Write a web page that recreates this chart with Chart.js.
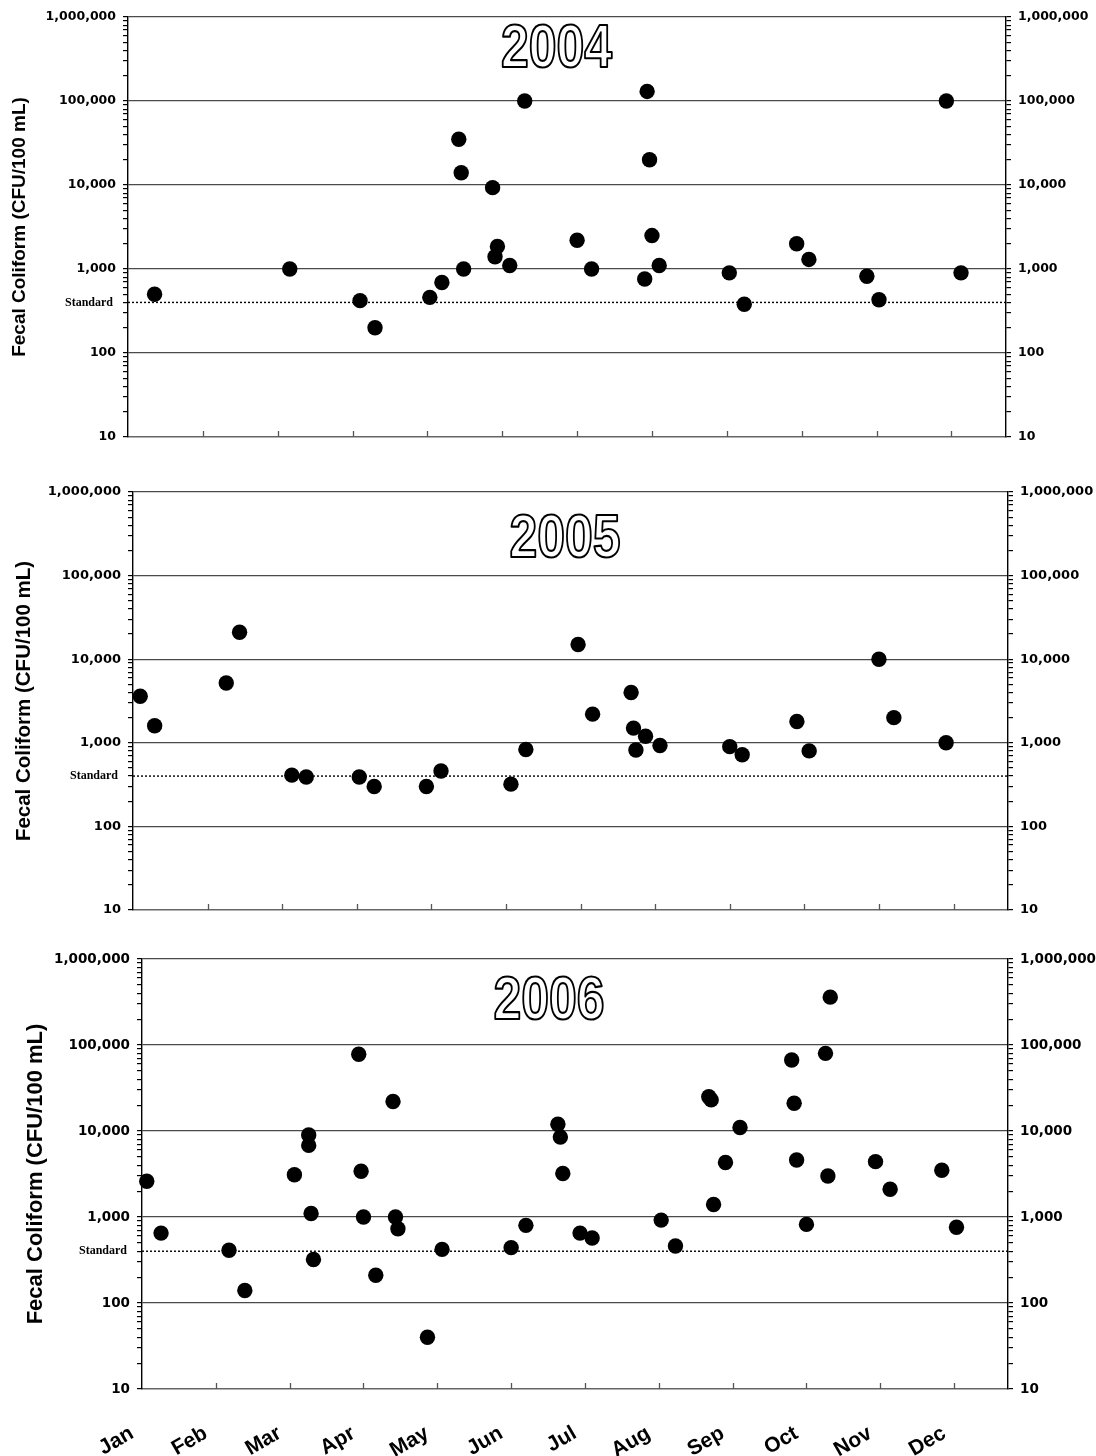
<!DOCTYPE html>
<html>
<head>
<meta charset="utf-8">
<title>Fecal Coliform 2004-2006</title>
<script src="https://cdn.jsdelivr.net/npm/chart.js@4.4.1/dist/chart.umd.min.js"></script>
<style>
  html, body { margin: 0; padding: 0; background: #fff; }
  body { width: 1096px; height: 1456px; position: relative; overflow: hidden; }
  .panel { position: absolute; left: 0; width: 1096px; }
  canvas { display: block; }
</style>
</head>
<body>
<script>
// ---- data -------------------------------------------------------------
const MONTH_LABELS = ['Jan', 'Feb', 'Mar', 'Apr', 'May', 'Jun', 'Jul', 'Aug', 'Sep', 'Oct', 'Nov', 'Dec'];
const Y_MIN = 10;
const Y_MAX = 1000000;
const STANDARD = 400;          // fecal coliform standard, CFU/100 mL
const X_END = 11.73;           // axis runs from Jan 1 to late December (in months)
const Y_AXIS_TITLE = 'Fecal Coliform (CFU/100 mL)';

const dates2004 = ['01-12', '03-06', '04-04', '04-10', '05-02', '05-07', '05-14', '05-15', '05-16',
  '05-28', '05-29', '05-30', '06-04', '06-10', '07-01', '07-07', '07-29', '07-30', '07-31', '08-01',
  '08-04', '09-02', '09-08', '09-29', '10-04', '10-28', '11-02', '11-29', '12-05'];
const fc2004 = [500, 1000, 420, 200, 460, 690, 35000, 14000, 1000,
  9300, 1400, 1850, 1100, 100000, 2200, 1000, 760, 130000, 20000, 2500,
  1100, 900, 380, 2000, 1300, 820, 430, 100000, 900];

const dates2005 = ['01-04', '01-10', '02-08', '02-13', '03-05', '03-11', '04-02', '04-08', '04-29',
  '05-05', '06-03', '06-09', '06-30', '07-06', '07-22', '07-23', '07-24', '07-28', '08-03', '09-01',
  '09-06', '09-28', '10-03', '11-01', '11-07', '11-28'];
const fc2005 = [3600, 1600, 5200, 21000, 410, 390, 390, 300, 300,
  460, 320, 830, 15000, 2200, 4000, 1500, 820, 1200, 930, 900,
  720, 1800, 800, 10000, 2000, 1000];

const dates2006 = ['01-03', '01-09', '02-06', '02-12', '03-03', '03-09', '03-09', '03-10', '03-11',
  '03-30', '03-31', '04-01', '04-06', '04-13', '04-14', '04-15', '04-27', '05-03', '06-01', '06-07',
  '06-20', '06-21', '06-22', '06-29', '07-04', '08-02', '08-08', '08-22', '08-23', '08-24', '08-29',
  '09-04', '09-25', '09-26', '09-27', '10-01', '10-09', '10-10', '10-11', '10-30', '11-05', '11-26',
  '12-02'];
const fc2006 = [2600, 650, 410, 140, 3100, 9000, 6800, 1100, 320,
  78000, 3400, 1000, 210, 22000, 1000, 730, 40, 420, 440, 800,
  12000, 8500, 3200, 650, 570, 920, 460, 25000, 23000, 1400, 4300,
  11000, 67000, 21000, 4600, 820, 80000, 3000, 360000, 4400, 2100, 3500,
  760];

// ---- panel layout -----------------------------------------------------
const PANELS = [
  { year: 2004, dates: dates2004, values: fc2004, top: 0, height: 470, padTop: 17, left: 128, right: 1006,
    xh: 33, months: false, titleDx: -10.5, titleDy: 28, yTitleSize: 19, yTitlePad: 8, tickSize: 12.5 },
  { year: 2005, dates: dates2005, values: fc2005, top: 470, height: 470, padTop: 22, left: 133, right: 1008,
    xh: 30, months: false, titleDx: -5.5, titleDy: 43, yTitleSize: 20.5, yTitlePad: 12, tickSize: 13 },
  { year: 2006, dates: dates2006, values: fc2006, top: 940, height: 516, padTop: 19, left: 142, right: 1008,
    xh: 67, months: true, titleDx: -26, titleDy: 38, yTitleSize: 22, yTitlePad: 23, tickSize: 13.5 }
];

// date 'MM-DD' -> position in months from Jan 1
function monthPosition(year, md) {
  const [m, d] = md.split('-').map(Number);
  const daysInMonth = new Date(year, m, 0).getDate();
  return (m - 1) + (d - 1) / daysInMonth;
}

function isDecade(v) {
  const e = Math.log10(v);
  return Math.abs(e - Math.round(e)) < 1e-9;
}

// 1..9 x 10^n ticks between the axis bounds
function logTicks(axis) {
  const ticks = [];
  const e0 = Math.round(Math.log10(Y_MIN));
  const e1 = Math.round(Math.log10(Y_MAX));
  for (let e = e0; e < e1; e++) {
    for (let k = 1; k < 10; k++) ticks.push({ value: k * Math.pow(10, e) });
  }
  ticks.push({ value: Y_MAX });
  axis.ticks = ticks;
}

function yAxis(p, side) {
  return {
    type: 'logarithmic',
    position: side,
    min: Y_MIN,
    max: Y_MAX,
    afterBuildTicks: logTicks,
    afterFit: (a) => { a.width = side === 'left' ? p.left : 1096 - p.right; },
    border: { display: true, color: '#000', width: 1.4 },
    grid: {
      drawOnChartArea: side === 'left',
      drawTicks: true,
      tickLength: 5,
      tickColor: '#000',
      lineWidth: 1.2,
      color: (ctx) => {
        const v = ctx.tick && ctx.tick.value;
        return (v && isDecade(v) && v > Y_MIN) ? '#4a4a4a' : 'rgba(0,0,0,0)';
      }
    },
    ticks: {
      autoSkip: false,
      padding: 7,
      color: '#000',
      font: { family: '"DejaVu Sans"', weight: 'bold', size: p.tickSize },
      callback: (v) => isDecade(v) ? Number(v).toLocaleString('en-US') : ''
    },
    title: side === 'left' ? {
      display: true,
      text: Y_AXIS_TITLE,
      color: '#000',
      font: { family: '"Liberation Sans", Arial, sans-serif', weight: 'bold', size: p.yTitleSize },
      padding: { top: p.yTitlePad, bottom: 0 }
    } : { display: false }
  };
}

// year heading, "Standard" caption and inward month ticks
const panelDecor = {
  id: 'panelDecor',
  afterDraw(chart, args, opts) {
    const ctx = chart.ctx;
    const area = chart.chartArea;
    const xs = chart.scales.x;
    const ys = chart.scales.y;

    // month ticks pointing up from the time axis
    ctx.save();
    ctx.strokeStyle = '#555';
    ctx.lineWidth = 1.3;
    for (let i = 1; i < MONTH_LABELS.length; i++) {
      const x = Math.round(xs.getPixelForValue(i)) + 0.5;
      ctx.beginPath();
      ctx.moveTo(x, area.bottom);
      ctx.lineTo(x, area.bottom - 6);
      ctx.stroke();
    }
    ctx.restore();

    // "Standard" caption next to the dotted line
    ctx.save();
    ctx.font = 'bold 12px "Liberation Serif", "Times New Roman", serif';
    ctx.fillStyle = '#000';
    ctx.textAlign = 'right';
    ctx.textBaseline = 'middle';
    ctx.fillText('Standard', area.left - 15, ys.getPixelForValue(STANDARD));
    ctx.restore();

    // outlined year heading
    const cx = (area.left + area.right) / 2 + opts.dx;
    const cy = area.top + opts.dy;
    ctx.save();
    ctx.translate(cx, cy);
    ctx.scale(1, 1.22);
    ctx.font = 'bold 50px "Liberation Sans", Arial, sans-serif';
    ctx.textAlign = 'center';
    ctx.textBaseline = 'alphabetic';
    ctx.lineJoin = 'round';
    ctx.fillStyle = '#fff';
    ctx.fillText(opts.text, 0, 50 * 0.716 / 2);
    ctx.strokeStyle = '#000';
    ctx.lineWidth = 1.8;
    ctx.strokeText(opts.text, 0, 50 * 0.716 / 2);
    ctx.restore();
  }
};

PANELS.forEach((p) => {
  const holder = document.createElement('div');
  holder.className = 'panel';
  holder.style.top = p.top + 'px';
  holder.style.height = p.height + 'px';
  const canvas = document.createElement('canvas');
  canvas.width = 1096;
  canvas.height = p.height;
  holder.appendChild(canvas);
  document.body.appendChild(holder);

  const points = p.dates.map((d, i) => ({ x: monthPosition(p.year, d), y: p.values[i] }));

  new Chart(canvas.getContext('2d'), {
    type: 'scatter',
    data: {
      datasets: [
        {
          label: 'Fecal coliform',
          data: points,
          backgroundColor: '#000',
          borderWidth: 0,
          pointRadius: 7.7,
          pointHoverRadius: 7.7,
          clip: false,
          order: 1
        },
        {
          type: 'line',
          label: 'Standard',
          data: [{ x: 0, y: STANDARD }, { x: X_END, y: STANDARD }],
          borderColor: '#000',
          borderWidth: 1.4,
          borderDash: [2, 2],
          pointRadius: 0,
          fill: false,
          order: 2
        }
      ]
    },
    options: {
      responsive: false,
      animation: false,
      devicePixelRatio: 1,
      layout: { padding: { top: p.padTop, left: 0, right: 0, bottom: 0 } },
      plugins: {
        legend: { display: false },
        tooltip: { enabled: false },
        panelDecor: { text: String(p.year), dx: p.titleDx, dy: p.titleDy }
      },
      scales: {
        x: {
          type: 'linear',
          min: 0,
          max: X_END,
          afterBuildTicks: (a) => { a.ticks = MONTH_LABELS.map((_, i) => ({ value: i })); },
          afterFit: (a) => { a.height = p.xh; },
          border: { display: true, color: '#666', width: 1.6 },
          grid: { drawOnChartArea: false, drawTicks: false },
          ticks: {
            display: p.months,
            autoSkip: false,
            minRotation: 30,
            maxRotation: 30,
            padding: 32,
            labelOffset: -10,
            color: '#000',
            font: { family: '"Liberation Sans", Arial, sans-serif', weight: 'bold', size: 21 },
            callback: (v) => MONTH_LABELS[Math.round(v)] || ''
          }
        },
        y: yAxis(p, 'left'),
        y2: yAxis(p, 'right')
      }
    },
    plugins: [panelDecor]
  });
});
</script>
</body>
</html>
